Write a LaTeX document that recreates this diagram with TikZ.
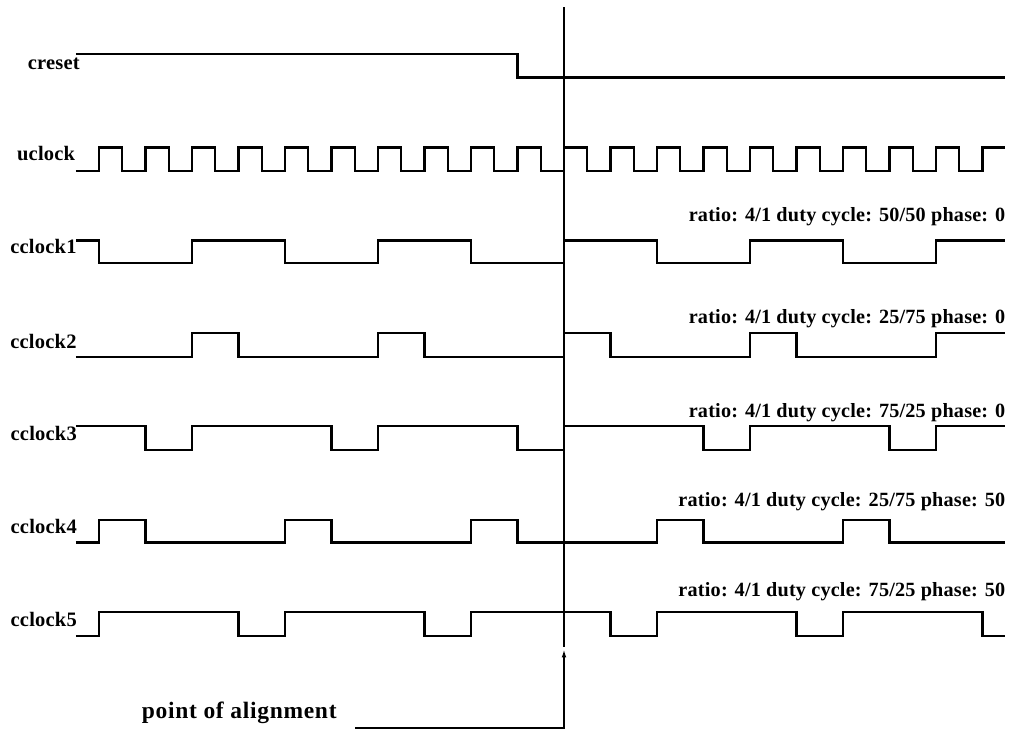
\documentclass[tikz,border=0pt]{standalone}
\usepackage{fontspec}
\setmainfont{Liberation Serif}
\newfontfamily\lblfont{Liberation Serif}[LetterSpace=1.0]
\newfontfamily\infofont{Liberation Serif}[LetterSpace=1.0]
\newfontfamily\ptrfont{Liberation Serif}[LetterSpace=3.0]
\usetikzlibrary{arrows.meta}
\tikzset{
  wave/.style={line width=2.1bp, line join=miter, black},
  sig/.style={anchor=base east, inner sep=0pt, font=\lblfont\bfseries\fontsize{20.5bp}{22bp}\selectfont},
  info/.style={anchor=base east, inner sep=0pt, font=\infofont\bfseries\fontsize{20.2bp}{22bp}\selectfont},
  ptrtext/.style={anchor=base west, inner sep=0pt, font=\ptrfont\bfseries\fontsize{23.5bp}{25bp}\selectfont},
  ptr/.style={line width=2.1bp, -{Latex[length=9bp,width=4.5bp]}},
}
\begin{document}
\begin{tikzpicture}[x=1bp, y=-1bp]
\fill[white] (0,0) rectangle (1013,730);
\useasboundingbox (0,0) rectangle (1013,730);

% signal names
\node[sig] (lcreset) at (80,69.3) {creset};
\node[sig] (luclock) at (75.3,161) {uclock};
\node[sig] (lc1) at (76.7,253.3) {cclock1};
\node[sig] (lc2) at (76.7,348.3) {cclock2};
\node[sig] (lc3) at (77,440.7) {cclock3};
\node[sig] (lc4) at (77,533.3) {cclock4};
\node[sig] (lc5) at (77,626.7) {cclock5};

% annotations
\node[info] (i1) at (1005.5,221) {ratio: 4/1 duty cycle: 50/50 phase: 0};
\node[info] (i2) at (1005.5,323.3) {ratio: 4/1 duty cycle: 25/75 phase: 0};
\node[info] (i3) at (1005.5,417.7) {ratio: 4/1 duty cycle: 75/25 phase: 0};
\node[info] (i4) at (1005.5,506.7) {ratio: 4/1 duty cycle: 25/75 phase: 50};
\node[info] (i5) at (1005.5,596.7) {ratio: 4/1 duty cycle: 75/25 phase: 50};

% waveforms, x in uclock periods
\begin{scope}[x=46.5bp, xshift=99bp]
  % creset
  \draw[wave] (-0.495,54) -| (9,77.5) -- (19.49,77.5);
  % uclock
  \draw[wave] (-0.495,171.3)
    \foreach \k in {0,...,18} { -| (\k,147.5) -| ({\k+0.5},171.3) }
    -| (19,147.5) -- (19.49,147.5);
  % cclock1
  \draw[wave] (-0.495,240.5)
    \foreach \k in {0,4,...,16} { -| (\k,262.7) -| ({\k+2},240.5) }
    -- (19.49,240.5);
  % cclock2
  \draw[wave] (-0.495,356.7)
    \foreach \k in {2,6,10,14} { -| (\k,333) -| ({\k+1},356.7) }
    -| (18,333) -- (19.49,333);
  % cclock3
  \draw[wave] (-0.495,426)
    \foreach \k in {1,5,9,13,17} { -| (\k,450.3) -| ({\k+1},426) }
    -- (19.49,426);
  % cclock4
  \draw[wave] (-0.495,542.5)
    \foreach \k in {0,4,8,12,16} { -| (\k,520) -| ({\k+1},542.5) }
    -- (19.49,542.5);
  % cclock5
  \draw[wave] (-0.495,635.7)
    \foreach \k in {0,4,8,12,16} { -| (\k,612.3) -| ({\k+3},635.7) }
    -- (19.49,635.7);
\end{scope}

% alignment marker
\coordinate (aligntop) at (564,7.5);
\coordinate (alignbot) at (564,646.5);
\draw[wave] (aligntop) -- (alignbot);

\node[ptrtext] (pa) at (141.7,718.3) {point of alignment};
\coordinate (ptrstart) at (355,728.3);
\coordinate (ptrtip) at (564,648.3);
\draw[ptr] (ptrstart) -| (ptrtip);
\end{tikzpicture}
\end{document}
